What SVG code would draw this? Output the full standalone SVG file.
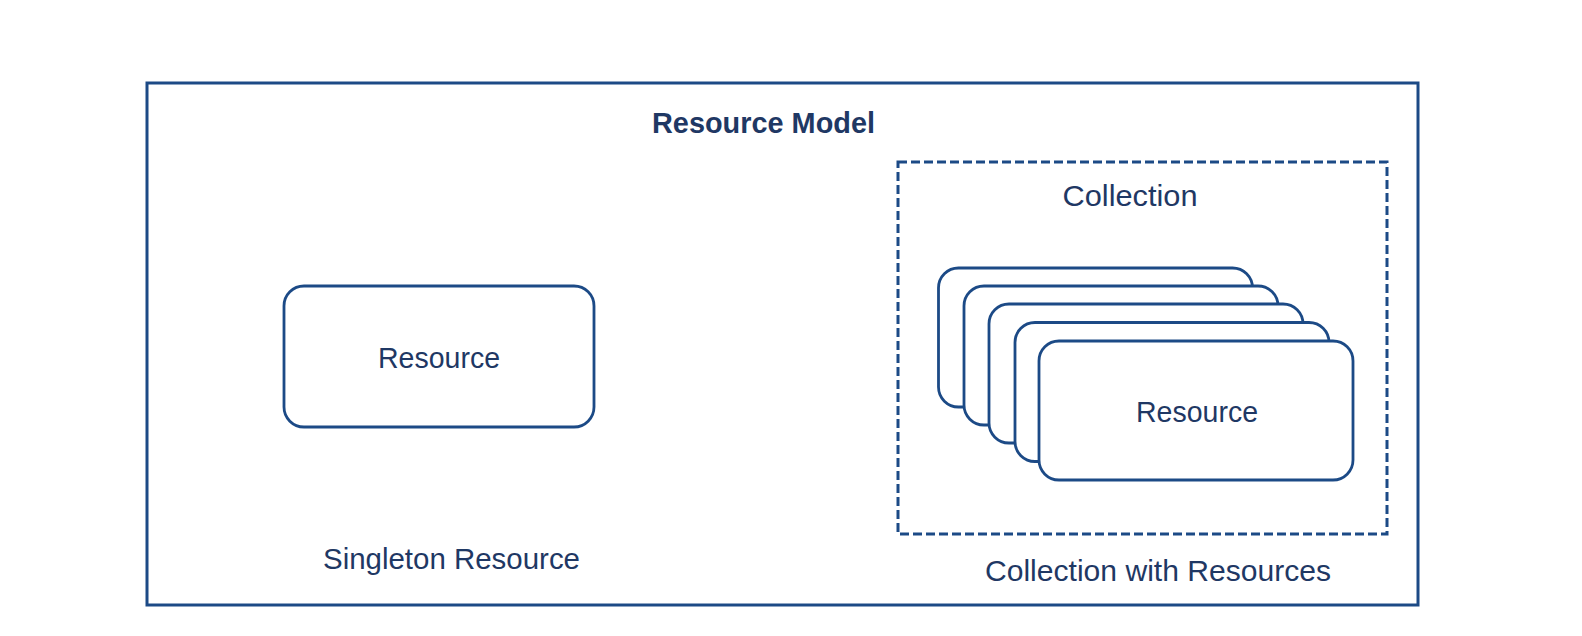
<svg xmlns="http://www.w3.org/2000/svg" width="1582" height="636" viewBox="0 0 1582 636">
<style>
.frame{fill:#ffffff;stroke:#1c4a86;stroke-width:3}
.box{fill:#ffffff;stroke:#1c4a86;stroke-width:2.8}
.dash{fill:none;stroke:#1c4a86;stroke-width:3;stroke-dasharray:9 4}
.t{font-family:"Liberation Sans",Arial,sans-serif;font-size:29px;fill:#1f3864;text-anchor:middle}
.b{font-weight:bold}
</style>
<rect width="1582" height="636" fill="#ffffff"/>
<g id="resource-model">
<rect class="frame" x="147" y="83" width="1271" height="522"/>
<text class="t b" x="763.5" y="133" textLength="223" lengthAdjust="spacingAndGlyphs">Resource Model</text>
</g>
<g id="singleton-resource">
<rect class="box" x="284" y="286" width="310" height="141" rx="20"/>
<text class="t" x="439" y="368" textLength="122" lengthAdjust="spacingAndGlyphs">Resource</text>
<text class="t" x="451.5" y="569" textLength="257" lengthAdjust="spacingAndGlyphs">Singleton Resource</text>
</g>
<g id="collection">
<rect class="dash" x="898" y="162" width="489" height="372"/>
<text class="t" x="1130" y="205.5" textLength="135" lengthAdjust="spacingAndGlyphs">Collection</text>
<text class="t" x="1158" y="581" textLength="346" lengthAdjust="spacingAndGlyphs">Collection with Resources</text>
</g>
<g id="collection-resources">
<rect class="box" x="938.5" y="268" width="314" height="139" rx="20"/>
<rect class="box" x="964" y="286" width="314" height="139" rx="20"/>
<rect class="box" x="989" y="304" width="314" height="139" rx="20"/>
<rect class="box" x="1015" y="322.5" width="314" height="139" rx="20"/>
<rect class="box" x="1039" y="341" width="314" height="139" rx="20"/>
<text class="t" x="1197" y="421.5" textLength="122" lengthAdjust="spacingAndGlyphs">Resource</text>
</g>
<g id="connectors"></g>
</svg>
